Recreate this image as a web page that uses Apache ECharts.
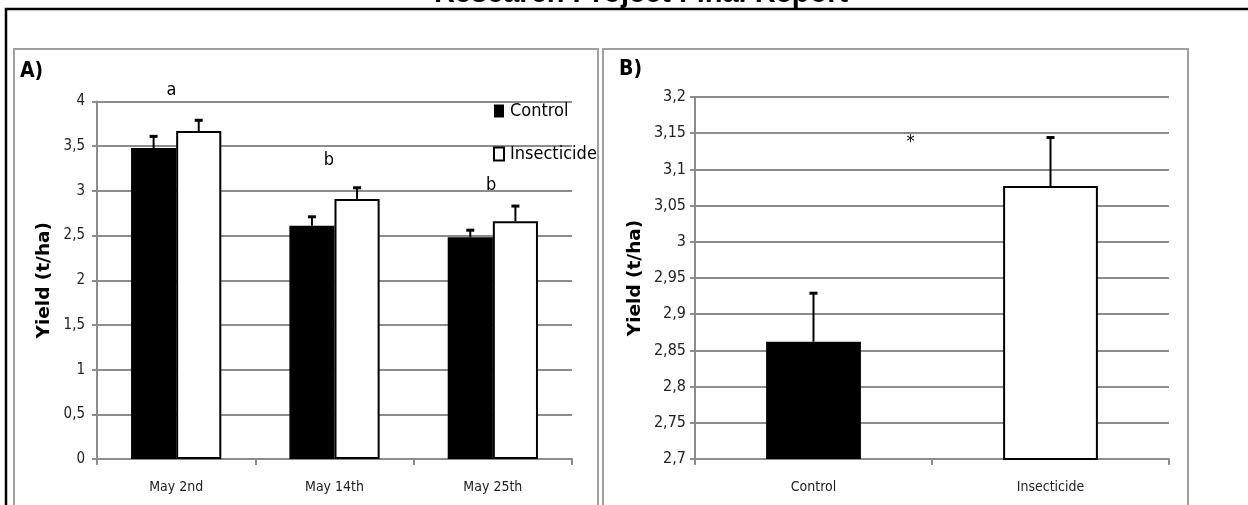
<!DOCTYPE html>
<html><head><meta charset="utf-8">
<script src="https://cdn.jsdelivr.net/npm/echarts@6/dist/echarts.min.js"></script>
<style>html,body{margin:0;padding:0;background:#fff;overflow:hidden}#c{width:1248px;height:505px}</style>
</head><body><div id="c"></div>
<script>
// ---- Panel A data ----
const datesA = ['May 2nd', 'May 14th', 'May 25th'];
const controlA = [3.48, 2.61, 2.48];
const controlErrA = [0.13, 0.10, 0.08];
const insectA = [3.67, 2.91, 2.66];
const insectErrA = [0.12, 0.125, 0.17];
const yLabelsA = ['0', '0,5', '1', '1,5', '2', '2,5', '3', '3,5', '4'];
const annotTextA = ['a', 'b', 'b'];
const annotPosA = [-0.03, 0.965, 1.99];
const annotValA = [4.12, 3.34, 3.06];

// ---- Panel B data ----
const treatB = ['Control', 'Insecticide'];
const valuesB = [2.862, 3.077];
const errB = [0.067, 0.067];
const yLabelsB = ['2,7', '2,75', '2,8', '2,85', '2,9', '2,95', '3', '3,05', '3,1', '3,15', '3,2'];
const annotTextB = ['*'];
const annotPosB = [0.41];
const annotValB = [3.137];

const NARROW = "'Liberation Sans Narrow','DejaVu Sans Condensed','Liberation Sans',sans-serif";
const GRID_GRAY = '#8c8c8c';
const BORDER_GRAY = '#a0a0a0';

function errRender(offsetFrac, errs) {
  return function (params, api) {
    const i = api.value(0), v = api.value(1), e = errs[params.dataIndex];
    const cw = api.size([1, 0])[0];
    const base = api.coord([i, v]);
    const top = api.coord([i, v + e]);
    const px = base[0] + offsetFrac * cw;
    return {
      type: 'group', children: [
        { type: 'line', shape: { x1: px, y1: base[1], x2: px, y2: top[1] }, style: { stroke: '#000', lineWidth: 2 } },
        { type: 'line', shape: { x1: px - 4, y1: top[1], x2: px + 4, y2: top[1] }, style: { stroke: '#000', lineWidth: 3 } }
      ]
    };
  };
}
function annotRender(texts, poss, size) {
  return function (params, api) {
    const k = params.dataIndex;
    const p = api.coord([0, api.value(1)]);
    const cw = api.size([1, 0])[0];
    return {
      type: 'text',
      style: { text: texts[k], x: p[0] + poss[k] * cw, y: p[1], align: 'center', verticalAlign: 'middle',
        fontFamily: NARROW, fontSize: size, fill: '#000' }
    };
  };
}

const chart = echarts.init(document.getElementById('c'), null, { renderer: 'canvas' });
const yName = { fontFamily: "'DejaVu Sans',sans-serif", fontWeight: 'bold', fontSize: 18.5, color: '#000' };

chart.setOption({
  animation: false,
  backgroundColor: '#fff',
  graphic: [
    { type: 'rect', shape: { x: 6, y: 9, width: 1300, height: 600 }, style: { fill: 'none', stroke: '#000', lineWidth: 2.5 }, z: 0 },
    { type: 'text', style: { text: 'Research Project Final Report', x: 641, y: -6, align: 'center', verticalAlign: 'middle',
        fontFamily: "'Liberation Sans',sans-serif", fontWeight: 'bold', fontSize: 29, fill: '#000' } },
    { type: 'rect', shape: { x: 14, y: 49, width: 584, height: 500 }, style: { fill: 'none', stroke: BORDER_GRAY, lineWidth: 2 } },
    { type: 'rect', shape: { x: 603, y: 49, width: 585, height: 500 }, style: { fill: 'none', stroke: BORDER_GRAY, lineWidth: 2 } },
    { type: 'text', style: { text: 'A)', x: 20, y: 72, verticalAlign: 'middle', fontFamily: NARROW, fontWeight: 'bold', fontSize: 21, fill: '#000' } },
    { type: 'text', style: { text: 'B)', x: 619, y: 70, verticalAlign: 'middle', fontFamily: NARROW, fontWeight: 'bold', fontSize: 21, fill: '#000' } }
  ],
  legend: {
    orient: 'vertical', left: 493, top: 101, padding: 0, itemWidth: 10, itemHeight: 13, itemGap: 23,
    icon: 'rect', data: ['Control', 'Insecticide'],
    textStyle: { fontFamily: NARROW, fontSize: 18, color: '#000', lineHeight: 20, padding: [0, 0, 0, 1] }
  },
  grid: [
    { left: 97, right: 676, top: 101.5, bottom: 46 },
    { left: 695, right: 79, top: 97, bottom: 46 }
  ],
  xAxis: [
    { type: 'category', gridIndex: 0, data: datesA,
      axisLine: { show: true, lineStyle: { color: GRID_GRAY, width: 2 } },
      axisTick: { show: true, length: 6, lineStyle: { color: GRID_GRAY, width: 2 } },
      axisLabel: { margin: 21, fontSize: 14, fontFamily: NARROW, color: '#222' } },
    { type: 'category', gridIndex: 1, data: treatB,
      axisLine: { show: true, lineStyle: { color: GRID_GRAY, width: 2 } },
      axisTick: { show: true, length: 6, lineStyle: { color: GRID_GRAY, width: 2 } },
      axisLabel: { margin: 21, fontSize: 14, fontFamily: NARROW, color: '#222' } }
  ],
  yAxis: [
    { type: 'value', gridIndex: 0, min: 0, max: 4, interval: 0.5,
      name: 'Yield (t/ha)', nameLocation: 'middle', nameGap: 43, nameRotate: 90, nameTextStyle: yName,
      axisLine: { show: true, lineStyle: { color: GRID_GRAY, width: 2 } },
      axisTick: { show: true, length: 5, lineStyle: { color: GRID_GRAY, width: 2 } },
      splitLine: { show: true, lineStyle: { color: GRID_GRAY, width: 2 } },
      axisLabel: { margin: 12, formatter: (v, i) => yLabelsA[i], fontFamily: NARROW, fontSize: 15, color: '#222' } },
    { type: 'value', gridIndex: 1, min: 2.7, max: 3.2, interval: 0.05,
      name: 'Yield (t/ha)', nameLocation: 'middle', nameGap: 50, nameRotate: 90, nameTextStyle: yName,
      axisLine: { show: true, lineStyle: { color: GRID_GRAY, width: 2 } },
      axisTick: { show: true, length: 5, lineStyle: { color: GRID_GRAY, width: 2 } },
      splitLine: { show: true, lineStyle: { color: GRID_GRAY, width: 2 } },
      axisLabel: { margin: 9, formatter: (v, i) => yLabelsB[i], fontFamily: NARROW, fontSize: 16, color: '#222' } }
  ],
  series: [
    { name: 'Control', type: 'bar', xAxisIndex: 0, yAxisIndex: 0, data: controlA, barGap: '0%', barCategoryGap: '43%',
      itemStyle: { color: '#000' } },
    { name: 'Insecticide', type: 'bar', xAxisIndex: 0, yAxisIndex: 0, data: insectA, barGap: '0%', barCategoryGap: '43%',
      itemStyle: { color: '#fff', borderColor: '#000', borderWidth: 2 } },
    { type: 'custom', xAxisIndex: 0, yAxisIndex: 0, clip: false, z: 5,
      data: controlA.map((v, i) => [i, v]), renderItem: errRender(-0.1425, controlErrA) },
    { type: 'custom', xAxisIndex: 0, yAxisIndex: 0, clip: false, z: 5,
      data: insectA.map((v, i) => [i, v]), renderItem: errRender(0.1425, insectErrA) },
    { type: 'custom', xAxisIndex: 0, yAxisIndex: 0, clip: false, z: 6,
      data: annotValA.map((v) => [0, v]), renderItem: annotRender(annotTextA, annotPosA, 18) },
    { name: 'Yield B', type: 'bar', xAxisIndex: 1, yAxisIndex: 1, barWidth: '40%',
      data: valuesB.map((v, i) => ({ value: v, itemStyle: i === 0 ? { color: '#000' } : { color: '#fff', borderColor: '#000', borderWidth: 2 } })) },
    { type: 'custom', xAxisIndex: 1, yAxisIndex: 1, clip: false, z: 5,
      data: valuesB.map((v, i) => [i, v]), renderItem: errRender(0, errB) },
    { type: 'custom', xAxisIndex: 1, yAxisIndex: 1, clip: false, z: 6,
      data: annotValB.map((v) => [0, v]), renderItem: annotRender(annotTextB, annotPosB, 18) }
  ]
});
</script>
</body></html>
